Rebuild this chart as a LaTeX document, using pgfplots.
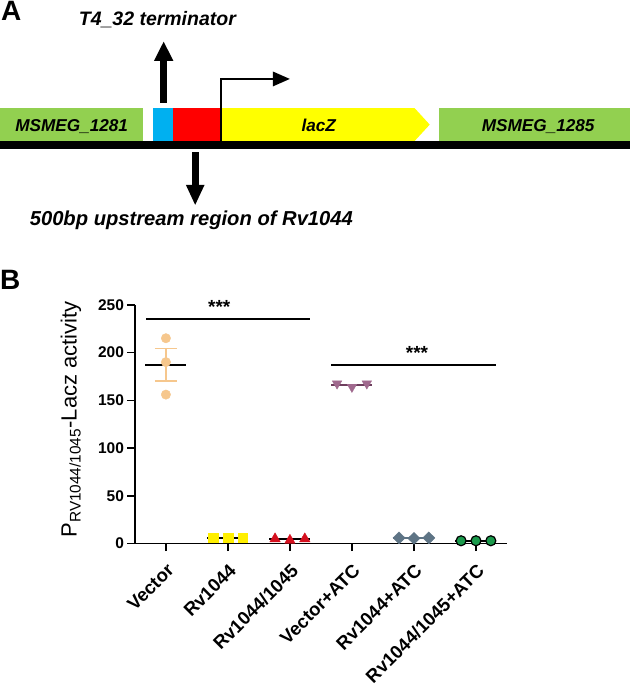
\documentclass[border=0pt]{standalone}
\usepackage{pgfplots}
\pgfplotsset{compat=1.18}
\usepackage{fontspec}
\setmainfont{Liberation Sans}
\definecolor{gbox}{HTML}{92D050}
\definecolor{bbox}{HTML}{00B0F0}
\definecolor{rbox}{HTML}{FF0000}
\definecolor{ybox}{HTML}{FFFF00}
\definecolor{vorange}{HTML}{F6C78D}
\definecolor{yel}{HTML}{FFEF00}
\definecolor{red2}{HTML}{D5101E}
\definecolor{mauve}{HTML}{A0698E}
\definecolor{mauved}{HTML}{6E3F5E}
\definecolor{slate}{HTML}{5E7485}
\definecolor{grn}{HTML}{1B9A4C}
\begin{document}
\begin{tikzpicture}
% ---------- Panel A: gene diagram (pixel coordinates, y downwards) ----------
\begin{axis}[at={(0pt,0pt)}, anchor=south west, scale only axis,
  width=630pt, height=686pt, xmin=0, xmax=630, ymin=0, ymax=686,
  y dir=reverse, hide axis, clip=false]
\fill[white] (axis cs:0,0) rectangle (axis cs:630,686);
\node[anchor=base west, inner sep=0pt, font=\bfseries\fontsize{28}{28}\selectfont] at (axis cs:1,20.7) {A};
\node[anchor=base west, inner sep=0pt, font=\bfseries\fontsize{28}{28}\selectfont] at (axis cs:0,290) {B};
\fill[gbox] (axis cs:0,108.3) rectangle (axis cs:142.7,141);
\fill[bbox] (axis cs:153.3,108.3) rectangle (axis cs:173.3,141);
\fill[rbox] (axis cs:173.3,108.3) rectangle (axis cs:221,141);
\fill[ybox] (axis cs:221,108.3) -- (axis cs:415,108.3) -- (axis cs:430,124.7) -- (axis cs:415,141) -- (axis cs:221,141) -- cycle;
\fill[gbox] (axis cs:439.3,108.3) rectangle (axis cs:630,141);
\fill[black] (axis cs:0,141) rectangle (axis cs:630,149.3);
\node[anchor=base, inner sep=0pt, font=\bfseries\itshape\fontsize{17.2}{17.2}\selectfont] at (axis cs:71.7,131.7) {MSMEG\_1281};
\node[anchor=base, inner sep=0pt, font=\bfseries\itshape\fontsize{17.2}{17.2}\selectfont] at (axis cs:319,131.7) {lacZ};
\node[anchor=base, inner sep=0pt, font=\bfseries\itshape\fontsize{17.2}{17.2}\selectfont] at (axis cs:538.5,131.7) {MSMEG\_1285};
% promoter arrow
\draw[line width=2pt] (axis cs:221,141) -- (axis cs:221,79) -- (axis cs:276,79);
\fill[black] (axis cs:273,71.5) -- (axis cs:290,79) -- (axis cs:273,86.5) -- cycle;
% terminator arrow (up)
\fill[black] (axis cs:160.5,103.3) rectangle (axis cs:167.3,60);
\fill[black] (axis cs:154,61) -- (axis cs:163.8,41.7) -- (axis cs:173.5,61) -- cycle;
% upstream arrow (down)
\fill[black] (axis cs:191.8,151.7) rectangle (axis cs:198.8,186);
\fill[black] (axis cs:186,185) -- (axis cs:195.3,205) -- (axis cs:204.7,185) -- cycle;
\node[anchor=base, inner sep=0pt, font=\bfseries\itshape\fontsize{19.5}{19.5}\selectfont] at (axis cs:157.5,26) {T4\_32 terminator};
\node[anchor=base, inner sep=0pt, font=\bfseries\itshape\fontsize{20.2}{20.2}\selectfont] at (axis cs:191.5,226) {500bp upstream region of Rv1044};
\end{axis}
% ---------- Panel B: scatter chart ----------
\begin{axis}[at={(135pt,142pt)}, anchor=south west, scale only axis,
  width=372.3pt, height=239pt,
  xmin=-0.5, xmax=5.5, ymin=0, ymax=250,
  axis x line*=bottom, axis y line*=left,
  axis line style={line width=1.6pt, black},
  clip=false,
  ytick={0,50,100,150,200,250},
  xtick={0,1,2,3,4,5},
  xticklabels={Vector,Rv1044,Rv1044/1045,Vector+ATC,Rv1044+ATC,Rv1044/1045+ATC},
  tick align=outside, major tick length=7.5pt,
  tick style={line width=1.5pt, black},
  /pgf/number format/assume math mode=true,
  yticklabel style={font=\bfseries\fontsize{15.5}{15.5}\selectfont},
  xticklabel style={font=\bfseries\fontsize{18.5}{18.5}\selectfont, yshift=-10pt, rotate=45, anchor=north east, inner sep=1pt},
  ylabel={P\textsubscript{RV1044/1045}-Lacz activity},
  ylabel style={font=\fontsize{22}{22}\selectfont, at={(axis description cs:-0.172,0.52)}, anchor=center},
]
% Vector
\addplot[vorange, line width=1.5pt] coordinates {(0,170.2) (0,204)};
\addplot[vorange, line width=1.5pt] coordinates {(-0.18,204) (0.18,204)};
\addplot[vorange, line width=1.5pt] coordinates {(-0.18,170.2) (0.18,170.2)};
\addplot[only marks, mark=*, mark size=4.7pt, vorange, mark options={draw=vorange, fill=vorange}] coordinates {(0,215) (0,190) (0,156)};
\addplot[black, line width=1.5pt] coordinates {(-0.33,187.2) (0.33,187.2)};
% Rv1044
\addplot[only marks, mark=square*, mark size=4.8pt, yel, mark options={draw=yel, fill=yel}] coordinates {(0.76,6) (1,6) (1.24,6)};
\addplot[black, line width=1.5pt] coordinates {(0.67,6) (1.33,6)};
% Rv1044/1045
\addplot[only marks, mark=triangle*, mark size=6pt, red2, mark options={draw=red2, fill=red2}] coordinates {(1.76,5) (2,3.5) (2.24,5)};
\addplot[black, line width=1.5pt] coordinates {(1.67,5) (2.33,5)};
% Vector+ATC
\addplot[only marks, mark=triangle*, mark size=5.5pt, mauve, mark options={draw=mauve, fill=mauve, rotate=180}] coordinates {(2.76,167.5) (3,164) (3.24,167.5)};
\addplot[mauved, line width=1.5pt] coordinates {(2.67,166) (3.33,166)};
% Rv1044+ATC
\addplot[only marks, mark=diamond*, mark size=6pt, slate, mark options={draw=slate, fill=slate, xscale=1.35}] coordinates {(3.76,6) (4,5.5) (4.24,6)};
\addplot[slate, line width=1.5pt] coordinates {(3.67,6) (4.33,6)};
% Rv1044/1045+ATC
\addplot[only marks, mark=*, mark size=5pt, mark options={draw=black, fill=grn, line width=1.2pt}] coordinates {(4.76,3) (5,3) (5.24,3)};
\addplot[black, line width=1.5pt] coordinates {(4.67,3) (5.33,3)};
% significance
\addplot[black, line width=1.5pt] coordinates {(-0.32,235) (2.33,235)};
\addplot[black, line width=1.5pt] coordinates {(2.67,187) (5.32,187)};
\node[anchor=base, inner sep=0pt, font=\bfseries\fontsize{19}{19}\selectfont] at (axis cs:0.86,241.3) {***};
\node[anchor=base, inner sep=0pt, font=\bfseries\fontsize{19}{19}\selectfont] at (axis cs:4.05,193.2) {***};
\end{axis}
\end{tikzpicture}
\end{document}
